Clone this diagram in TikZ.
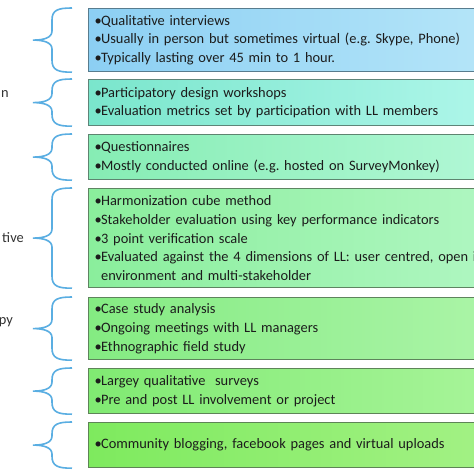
\documentclass[tikz,border=0pt]{standalone}
\usepackage{fontspec}
\setmainfont{Carlito}
\usetikzlibrary{calc}
\frenchspacing
\definecolor{lgText}{HTML}{1C1C1C}
\definecolor{lgLabel}{HTML}{333333}
\definecolor{lgBrace}{HTML}{5AAEE2}
\definecolor{boxEdge1}{HTML}{587C8E}
\definecolor{boxEdge2}{HTML}{5E8478}
\definecolor{boxEdge3}{HTML}{5E8470}
\definecolor{boxEdge4}{HTML}{5E8462}
\definecolor{boxEdge5}{HTML}{5E845C}
\definecolor{boxEdge6}{HTML}{5E8458}
\definecolor{boxEdge7}{HTML}{5E8456}
\definecolor{boxL1}{HTML}{8CCFF3}
\definecolor{boxR1}{HTML}{B8E7F9}
\definecolor{boxL2}{HTML}{7AE6CC}
\definecolor{boxR2}{HTML}{B2F7EC}
\definecolor{boxL3}{HTML}{86EDB4}
\definecolor{boxR3}{HTML}{B4F8D8}
\definecolor{boxL4}{HTML}{8AEE9C}
\definecolor{boxR4}{HTML}{B2F7C4}
\definecolor{boxL5}{HTML}{84EB82}
\definecolor{boxR5}{HTML}{AEF5AA}
\definecolor{boxL6}{HTML}{80EA72}
\definecolor{boxR6}{HTML}{AAF59C}
\definecolor{boxL7}{HTML}{7EEA5E}
\definecolor{boxR7}{HTML}{A6F288}
\newcommand{\bul}{\makebox[6.5pt][l]{\textbullet}}
\newcommand{\sidebrace}[1]{%
  \draw[bracestroke] ($(#1.north west)+(-16,0)$) .. controls +(-14,0) and +(0,-10) .. ($(#1.north west)+(-36,12)$)
    -- ($(#1.west)+(-36,-9)$) .. controls +(0,7) and +(10,0) .. ($(#1.west)+(-55,0)$)
    .. controls +(10,0) and +(0,-7) .. ($(#1.west)+(-36,9)$)
    -- ($(#1.south west)+(-36,-12)$) .. controls +(0,10) and +(-14,0) .. ($(#1.south west)+(-16,0)$);}
\tikzset{
  itembox/.style={anchor=north west, line width=1.2pt, text width=420pt, align=left,
    inner xsep=6pt, inner ysep=0pt, text=lgText, font=\fontsize{14.4}{18.8}\selectfont},
  bracestroke/.style={draw=lgBrace, line width=1.6pt},
  sidelabel/.style={anchor=base east, inner sep=0pt, text=lgLabel, font=\fontsize{14.4}{18.8}\selectfont}
}

\begin{document}
\begin{tikzpicture}[x=1pt, y=-1pt]
  \useasboundingbox (0,0) rectangle (474,474);
  \clip (0,0) rectangle (474,474);
  \fill[white] (0,0) rectangle (474,474);
  \foreach \y/\h/\items [count=\i] in {
      8/63/{\bul Qualitative interviews\\ \bul Usually in person but sometimes virtual (e.g. Skype, Phone)\\ \bul Typically lasting over 45 min to 1 hour.},
      79/46/{\bul Participatory design workshops\\ \bul Evaluation metrics set by participation with LL members},
      134/45/{\bul Questionnaires\\ \bul Mostly conducted online (e.g. hosted on SurveyMonkey)},
      188/99/{\bul Harmonization cube method\\ \bul Stakeholder evaluation using key performance indicators\\ \bul 3 point verification scale\\ \bul Evaluated against the 4 dimensions of LL: user centred, open in\\ \hspace*{6.5pt}environment and multi-stakeholder},
      297/62/{\bul Case study analysis\\ \bul Ongoing meetings with LL managers\\ \bul Ethnographic field study},
      368/45/{\bul Largey qualitative\ \ surveys\\ \bul Pre and post LL involvement or project},
      422/45/{\bul Community blogging, facebook pages and virtual uploads}} {
    \node[itembox, minimum height=\h, draw=boxEdge\i, left color=boxL\i, right color=boxR\i] (box\i) at (88,\y) {\items};
    \sidebrace{box\i}
  }
  % cut-off labels at the left edge
  \node[sidelabel] (lab2) at ($(box2.west)+(-79,-5)$) {n};
  \node[sidelabel] (lab4) at ($(box4.west)+(-64,4.5)$) {tive};
  \node[sidelabel] (lab5) at ($(box5.west)+(-75,-4.5)$) {py};
\end{tikzpicture}
\end{document}
